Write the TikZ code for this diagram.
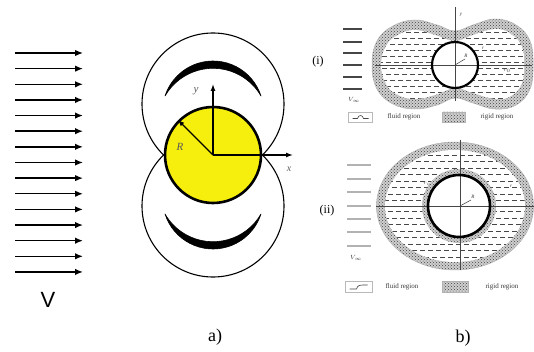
\documentclass[tikz,border=0pt]{standalone}
\usepackage{fontspec}
\setmainfont{Liberation Serif}
\setsansfont{Liberation Sans}
\usetikzlibrary{arrows.meta,patterns}
\definecolor{ballyellow}{RGB}{246,238,12}
\definecolor{labelgray}{RGB}{90,90,90}

\begin{document}
\begin{tikzpicture}[x=1pt,y=1pt,
  flow/.style={line width=1.4pt,-{Latex[length=8pt,width=6.5pt]}},
  axisarrow/.style={line width=1.3pt,-{Latex[length=7pt,width=5pt]}},
  guide/.style={line width=1.1pt},
  crescent/.style={fill=black,draw=black,line width=0.6pt,line join=round},
  baxis/.style={line width=0.7pt,draw=gray!55!black},
  rigid/.style={preaction={fill=gray!38},pattern=crosshatch dots,pattern color=gray!50!black,draw=gray!60,line width=0.5pt},
  fluiddash/.style={line width=0.9pt,draw=gray!60!black,dash pattern=on 4.5pt off 3.5pt},
  streak/.style={line width=1.2pt,draw=gray!55!black},
  tinylabel/.style={font=\fontsize{5}{6}\selectfont\itshape,text=gray!40!black,inner sep=0.5pt},
  legendtext/.style={font=\fontsize{7}{8}\selectfont,text=gray!45!black,inner sep=0pt},
  caption/.style={font=\fontsize{18}{20}\selectfont,inner sep=0pt}
]
\useasboundingbox (0,0) rectangle (534,351);

%% ---------- (a) uniform stream hitting the cylinder ----------
\foreach \i in {0,...,14}{
  \coordinate (s\i) at (15,{298-15.64*\i});
  \coordinate (e\i) at (83,{298-15.64*\i});
  \draw[flow] (s\i) -- (e\i);
}
\node[font=\sffamily\fontsize{22}{24}\selectfont,inner sep=0pt] (vlabel) at (48,51) {V};

% bounding circles of the disturbed zone
\draw[guide] (213,247) circle[radius=71];
\draw[guide] (213,145) circle[radius=71];

% crescents above and below the cylinder
\path[crescent] (261,255) arc[start angle=17.8,end angle=162.2,radius=50.4]
  arc[start angle=150.0,end angle=30.0,radius=55.4] -- cycle;
\path[crescent] (165,137) arc[start angle=197.8,end angle=342.2,radius=50.4]
  arc[start angle=330.0,end angle=210.0,radius=55.4] -- cycle;

% the cylinder
\node[circle,minimum size=96pt,inner sep=0pt,fill=ballyellow,draw=black,line width=2.6pt] (ball) at (213,196) {};
\coordinate (ytip) at (213,267);
\coordinate (xtip) at (293,196);
\draw[axisarrow] (ball.center) -- (ytip);
\draw[axisarrow] (ball.center) -- (xtip);
\draw[line width=1.2pt,-{Latex[length=6pt,width=5pt]}] (ball.center) -- (ball.135);
\node[font=\fontsize{11}{12}\selectfont\itshape,text=labelgray] (ylab) at (196,260) {y};
\node[font=\fontsize{10}{12}\selectfont\itshape,text=labelgray] (xlab) at (289,182) {x};
\node[font=\fontsize{11}{12}\selectfont\itshape,text=labelgray] (rlab) at (180,204) {R};

\node[caption] (capa) at (215,14) {a)};

%% ---------- (b)(i) peanut-shaped zone ----------
\foreach \y in {322,309,298,286,274,262}{
  \draw[streak] (343,\y) -- (362,\y);
}
\node[font=\fontsize{6}{7}\selectfont,text=gray!40!black] (vinf1) at (354,251) {$V_\infty$};
\node[font=\fontsize{12}{14}\selectfont] (lab1) at (318,289) {(i)};

\begin{scope}[shift={(455,286)}]
  \def\outerone{(-83,0) (-78,24) (-62,39) (-40,45) (-18,40) (0,34) (18,40) (40,46) (61,40) (75,24) (78,0) (75,-24) (61,-40) (40,-44) (18,-38) (0,-33) (-18,-40) (-40,-44) (-62,-39) (-78,-24)}
  \def\innerone{(-74,0) (-69,19) (-57,30) (-40,35) (-20,30) (0,24) (18,30) (40,36) (56,31) (67,18) (69,0) (67,-18) (56,-31) (40,-34) (18,-28) (0,-23) (-20,-30) (-40,-34) (-57,-30) (-69,-19)}
  \path[rigid] plot[smooth cycle,tension=0.7] coordinates {\outerone};
  \fill[white] plot[smooth cycle,tension=0.7] coordinates {\innerone};
  \begin{scope}
    \clip plot[smooth cycle,tension=0.7] coordinates {\innerone};
    \foreach \r [count=\k] in {-39,-33,-27,-21,-15,-9,-3,3,9,15,21,27,33,39}{
      \pgfmathsetmacro\ph{mod(\k,2)*4}
      \draw[fluiddash,dash phase=\ph pt] (-85,\r) -- (80,\r);
    }
  \end{scope}
  \fill[white] (0,0) circle[radius=23];
  \draw[baxis] (-80,0) -- (77,0);
  \draw[baxis] (0,58) -- (0,-36);
  \draw[line width=2.2pt] (0,0) circle[radius=23];
  \draw[line width=0.5pt,gray!40!black] (0,0) -- (10,6);
  \node[tinylabel] (r1) at (11,9) {R};
  \node[tinylabel] (eta1) at (6,50) {y};
  \node[tinylabel] (g1) at (28,17) {r};
  \node[tinylabel] (x1) at (52,-6) {$r_0$};
\end{scope}

% legend (i)
\node[draw=gray!55,line width=0.8pt,fill=white,minimum width=24pt,minimum height=10pt,inner sep=0pt] (fl1) at (360.5,234) {};
\draw[gray!55!black,line width=0.6pt] ([xshift=-8pt,yshift=-1.5pt]fl1.center) -- ([xshift=-3pt,yshift=-1.5pt]fl1.center)
  .. controls ([xshift=-2pt,yshift=2.5pt]fl1.center) and ([xshift=2pt,yshift=2.5pt]fl1.center) .. ([xshift=3pt,yshift=-1.5pt]fl1.center)
  -- ([xshift=8pt,yshift=-1.5pt]fl1.center);
\node[legendtext] (flt1) at (404,234) {fluid region};
\node[rigid,minimum width=23pt,minimum height=10pt,inner sep=0pt] (rg1) at (453.5,234) {};
\node[legendtext] (rgt1) at (497,234) {rigid region};

%% ---------- (b)(ii) elliptic zone ----------
\foreach \y in {186,172,159,145,132,119,105}{
  \draw[streak,line width=1.1pt,draw=gray!60] (347,\y) -- (371,\y);
}
\node[font=\fontsize{6}{7}\selectfont,text=gray!40!black] (vinf2) at (356,93) {$V_\infty$};
\node[font=\fontsize{12}{14}\selectfont] (lab2) at (327,140) {(ii)};

\begin{scope}[shift={(455,145)}]
  \path[rigid] (0,0) ellipse[x radius=78.5,y radius=64];
  \fill[white] (0,0) ellipse[x radius=70,y radius=56];
  \begin{scope}
    \clip (0,0) ellipse[x radius=70,y radius=56];
    \foreach \r [count=\k] in {-51,-44.5,-38,-31.5,-25,-18.5,-12,-5.5,5.5,12,18.5,25,31.5,38,44.5,51}{
      \pgfmathsetmacro\ph{mod(\k,2)*4}
      \draw[fluiddash,line width=0.9pt,draw=gray!55!black,dash phase=\ph pt] (-75,\r) -- (75,\r);
    }
  \end{scope}
  \path[rigid,draw=none] (4,0) circle[radius=37];
  \fill[white] (4,0) circle[radius=31];
  \draw[baxis] (-79,0) -- (79,0);
  \draw[baxis] (5,66) -- (5,-64);
  \draw[line width=2.6pt] (4,0) circle[radius=31];
  \draw[line width=0.5pt,gray!40!black] (5,0) -- (16,6);
  \node[tinylabel] (r2) at (18,9) {R};
  \node[tinylabel] (rc2) at (-28,22) {$r_c$};
  \node[tinylabel] (g2) at (56,20) {r};
\end{scope}

% legend (ii)
\node[draw=gray!55,line width=0.8pt,fill=white,minimum width=27pt,minimum height=11pt,inner sep=0pt] (fl2) at (358.5,64) {};
\draw[gray!55!black,line width=0.6pt] ([xshift=-9pt,yshift=-2pt]fl2.center) -- ([xshift=-2pt,yshift=-2pt]fl2.center)
  .. controls ([xshift=-1pt,yshift=2pt]fl2.center) and ([xshift=2pt,yshift=2pt]fl2.center) .. ([xshift=4pt,yshift=2pt]fl2.center)
  -- ([xshift=9pt,yshift=2pt]fl2.center);
\node[legendtext] (flt2) at (402,64) {fluid region};
\node[rigid,minimum width=26pt,minimum height=11pt,inner sep=0pt] (rg2) at (455,64) {};
\node[legendtext] (rgt2) at (502,64) {rigid region};

\node[caption] (capb) at (463,13) {b)};
\end{tikzpicture}
\end{document}
